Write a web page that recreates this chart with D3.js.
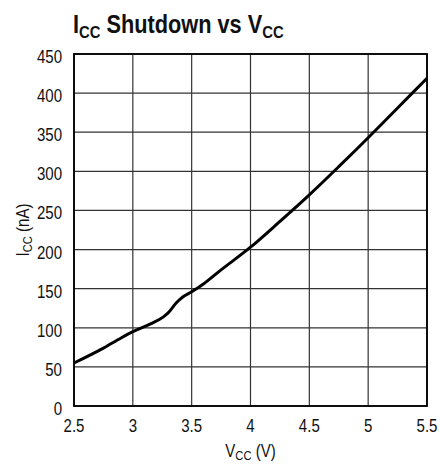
<!DOCTYPE html>
<html>
<head>
<meta charset="utf-8">
<script src="https://cdn.jsdelivr.net/npm/d3@7"></script>
<style>
  body { margin: 0; background: #fff; }
  svg text { font-family: "Liberation Sans", Arial, sans-serif; fill: #111; }
</style>
</head>
<body>
<div id="chart-wrap"></div>
<script>
// data
const vcc = [2.5, 2.75, 2.9, 3.0, 3.15, 3.26, 3.3, 3.37, 3.43, 3.5, 3.6, 3.75, 4.0, 4.25, 4.5, 4.75, 5.0, 5.25, 5.5];
const icc = [55, 74, 87, 95, 105, 114, 119, 132, 140, 146, 156, 174, 203, 236, 270, 306, 343, 381, 419];
const xTicks = [2.5, 3, 3.5, 4, 4.5, 5, 5.5];
const yTicks = [0, 50, 100, 150, 200, 250, 300, 350, 400, 450];

const width = 440;
const height = 464;
const margin = { top: 54, right: 13, bottom: 58, left: 74 };
const squeeze = 0.86; // narrow the font like a condensed face

const svg = d3.select('#chart-wrap').append('svg')
  .attr('width', width)
  .attr('height', height);

const x = d3.scaleLinear()
  .domain([2.5, 5.5])
  .range([margin.left, width - margin.right]);

const y = d3.scaleLinear()
  .domain([0, 450])
  .range([height - margin.bottom, margin.top]);

// grid
svg.append('g')
  .selectAll('line')
  .data(xTicks)
  .join('line')
  .attr('x1', d => x(d)).attr('x2', d => x(d))
  .attr('y1', y(0)).attr('y2', y(450))
  .attr('stroke', '#333')
  .attr('stroke-width', 1.2);

svg.append('g')
  .selectAll('line')
  .data(yTicks)
  .join('line')
  .attr('x1', x(2.5)).attr('x2', x(5.5))
  .attr('y1', d => y(d)).attr('y2', d => y(d))
  .attr('stroke', '#333')
  .attr('stroke-width', 1.2);

// frame
svg.append('rect')
  .attr('x', x(2.5))
  .attr('y', y(450))
  .attr('width', x(5.5) - x(2.5))
  .attr('height', y(0) - y(450))
  .attr('fill', 'none')
  .attr('stroke', '#000')
  .attr('stroke-width', 1.8);

// tick labels
svg.append('g')
  .selectAll('text')
  .data(yTicks)
  .join('text')
  .attr('transform', d => `translate(${x(2.5) - 12}, ${y(d) + 9}) scale(${squeeze}, 1)`)
  .attr('text-anchor', 'end')
  .style('font-size', '17.5px')
  .text(d => d);

svg.append('g')
  .selectAll('text')
  .data(xTicks)
  .join('text')
  .attr('transform', d => `translate(${x(d)}, ${y(0) + 26}) scale(${squeeze}, 1)`)
  .attr('text-anchor', 'middle')
  .style('font-size', '17.5px')
  .text(d => d);

// curve
const line = d3.line()
  .x((d, i) => x(vcc[i]))
  .y(d => y(d))
  .curve(d3.curveMonotoneX);

svg.append('path')
  .datum(icc)
  .attr('d', line)
  .attr('fill', 'none')
  .attr('stroke', '#000')
  .attr('stroke-width', 3)
  .attr('stroke-linejoin', 'round');

// title
const title = svg.append('text')
  .attr('transform', `translate(73, 33) scale(0.87, 1)`)
  .style('font-size', '25px')
  .style('font-weight', 'bold');
title.append('tspan').text('I');
title.append('tspan').attr('dy', 5).style('font-size', '17px').text('CC');
title.append('tspan').attr('dy', -5).text(' Shutdown vs V');
title.append('tspan').attr('dy', 5).style('font-size', '17px').text('CC');

// axis labels
const xl = svg.append('text')
  .attr('transform', `translate(${(x(2.5) + x(5.5)) / 2}, 457) scale(${squeeze}, 1)`)
  .attr('text-anchor', 'middle')
  .style('font-size', '17.5px');
xl.append('tspan').text('V');
xl.append('tspan').attr('dy', 3).style('font-size', '13px').text('CC');
xl.append('tspan').attr('dy', -3).text(' (V)');

const yl = svg.append('text')
  .attr('transform', `translate(29, ${(y(0) + y(450)) / 2}) rotate(-90) scale(${squeeze}, 1)`)
  .attr('text-anchor', 'middle')
  .style('font-size', '17.5px');
yl.append('tspan').text('I');
yl.append('tspan').attr('dy', 3).style('font-size', '13px').text('CC');
yl.append('tspan').attr('dy', -3).text(' (nA)');
</script>
</body>
</html>
